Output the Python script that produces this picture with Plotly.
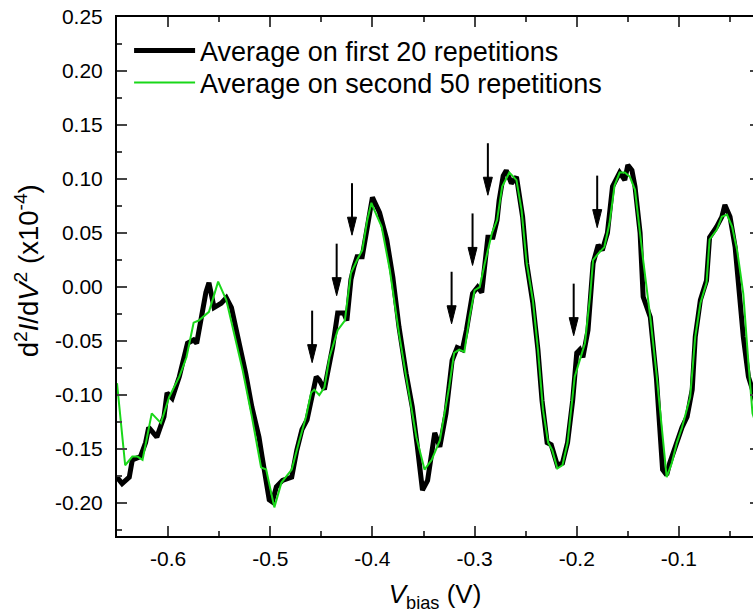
import plotly.graph_objects as go

# ---------------- data ----------------
black_v = [-0.650, -0.645, -0.638, -0.635, -0.627, -0.622, -0.619, -0.611, -0.604, -0.601,
           -0.596, -0.589, -0.581, -0.575, -0.572, -0.568, -0.563, -0.560, -0.555, -0.548,
           -0.543, -0.538, -0.530, -0.524, -0.518, -0.511, -0.508, -0.504, -0.501, -0.498,
           -0.494, -0.488, -0.479, -0.474, -0.469, -0.464, -0.459, -0.455, -0.452, -0.447,
           -0.444, -0.439, -0.434, -0.428, -0.425, -0.421, -0.418, -0.415, -0.410, -0.405,
           -0.400, -0.393, -0.386, -0.380, -0.374, -0.367, -0.361, -0.356, -0.351, -0.346,
           -0.342, -0.339, -0.334, -0.328, -0.322, -0.317, -0.312, -0.308, -0.302, -0.297,
           -0.293, -0.290, -0.287, -0.282, -0.278, -0.276, -0.272, -0.269, -0.264, -0.259,
           -0.253, -0.249, -0.243, -0.238, -0.234, -0.229, -0.225, -0.219, -0.214, -0.209,
           -0.204, -0.200, -0.197, -0.194, -0.189, -0.184, -0.179, -0.175, -0.170, -0.165,
           -0.158, -0.153, -0.150, -0.146, -0.143, -0.138, -0.135, -0.128, -0.122, -0.116,
           -0.112, -0.109, -0.102, -0.097, -0.092, -0.087, -0.084, -0.079, -0.073, -0.070,
           -0.063, -0.058, -0.055, -0.050, -0.045, -0.042, -0.037, -0.032, -0.028, -0.020]
black_d2 = [-0.176, -0.182, -0.176, -0.160, -0.157, -0.144, -0.130, -0.139, -0.120, -0.098,
            -0.103, -0.083, -0.052, -0.049, -0.052, -0.031, -0.005, 0.004, -0.019, -0.015,
            -0.010, -0.019, -0.052, -0.080, -0.111, -0.139, -0.157, -0.182, -0.197, -0.199,
            -0.185, -0.179, -0.176, -0.151, -0.132, -0.123, -0.100, -0.083, -0.086, -0.095,
            -0.080, -0.056, -0.024, -0.024, -0.031, 0.007, 0.019, 0.028, 0.028, 0.056,
            0.083, 0.069, 0.044, 0.009, -0.037, -0.080, -0.111, -0.148, -0.188, -0.179,
            -0.151, -0.135, -0.148, -0.117, -0.068, -0.056, -0.058, -0.040, -0.006, 0.000,
            -0.005, 0.025, 0.046, 0.046, 0.062, 0.080, 0.103, 0.108, 0.096, 0.102,
            0.065, 0.022, -0.015, -0.058, -0.105, -0.144, -0.146, -0.165, -0.163, -0.144,
            -0.105, -0.061, -0.058, -0.065, -0.040, 0.022, 0.039, 0.034, 0.050, 0.093,
            0.106, 0.099, 0.113, 0.108, 0.093, 0.050, -0.009, -0.028, -0.085, -0.169,
            -0.174, -0.163, -0.144, -0.130, -0.120, -0.095, -0.046, -0.012, 0.006, 0.046,
            0.056, 0.065, 0.076, 0.065, 0.037, 0.004, -0.046, -0.083, -0.095, -0.125]

green_v = [-0.650, -0.642, -0.635, -0.630, -0.625, -0.616, -0.607, -0.599, -0.589, -0.582,
           -0.575, -0.570, -0.560, -0.551, -0.543, -0.537, -0.527, -0.518, -0.509, -0.504,
           -0.496, -0.489, -0.479, -0.472, -0.465, -0.460, -0.457, -0.452, -0.447, -0.442,
           -0.434, -0.427, -0.421, -0.415, -0.410, -0.405, -0.401, -0.398, -0.391, -0.383,
           -0.374, -0.367, -0.357, -0.349, -0.342, -0.334, -0.325, -0.320, -0.315, -0.310,
           -0.305, -0.300, -0.295, -0.290, -0.283, -0.278, -0.273, -0.266, -0.259, -0.254,
           -0.249, -0.243, -0.238, -0.233, -0.228, -0.224, -0.219, -0.214, -0.209, -0.202,
           -0.197, -0.192, -0.187, -0.184, -0.179, -0.173, -0.168, -0.163, -0.158, -0.153,
           -0.148, -0.143, -0.135, -0.128, -0.122, -0.117, -0.112, -0.107, -0.102, -0.097,
           -0.089, -0.084, -0.079, -0.073, -0.070, -0.063, -0.058, -0.053, -0.048, -0.043,
           -0.037, -0.032, -0.028, -0.020]
green_d2 = [-0.089, -0.165, -0.157, -0.157, -0.160, -0.117, -0.126, -0.102, -0.083, -0.065,
            -0.033, -0.031, -0.023, 0.005, -0.012, -0.037, -0.077, -0.120, -0.167, -0.169,
            -0.204, -0.181, -0.169, -0.144, -0.120, -0.098, -0.095, -0.100, -0.093, -0.065,
            -0.040, -0.031, 0.013, 0.025, 0.034, 0.062, 0.078, 0.071, 0.056, 0.016,
            -0.043, -0.083, -0.139, -0.169, -0.160, -0.142, -0.093, -0.061, -0.058, -0.060,
            -0.028, -0.003, 0.000, 0.022, 0.050, 0.062, 0.093, 0.106, 0.099, 0.071,
            0.022, -0.012, -0.058, -0.114, -0.144, -0.151, -0.168, -0.165, -0.144, -0.083,
            -0.068, -0.052, -0.009, 0.025, 0.031, 0.037, 0.059, 0.094, 0.106, 0.106,
            0.102, 0.090, 0.025, -0.028, -0.080, -0.130, -0.176, -0.163, -0.144, -0.130,
            -0.102, -0.046, -0.015, 0.004, 0.044, 0.053, 0.065, 0.067, 0.056, 0.034,
            -0.006, -0.070, -0.117, -0.140]

# arrow tips (V, d2I/dV2)
arrow_v = [-0.459, -0.435, -0.420, -0.3225, -0.302, -0.287, -0.203, -0.180]
arrow_d2 = [-0.070, -0.008, 0.048, -0.034, 0.020, 0.085, -0.045, 0.055]

series_names = ["Average on first 20 repetitions", "Average on second 50 repetitions"]
x_ticks = [-0.6, -0.5, -0.4, -0.3, -0.2, -0.1]
y_ticks = [0.25, 0.20, 0.15, 0.10, 0.05, 0.00, -0.05, -0.10, -0.15, -0.20]
x_title = "<i>V</i><sub>bias</sub> (V)"
y_title = "d<sup>2</sup><i>I</i>/d<i>V</i><sup>2</sup> (x10<sup>-4</sup>)"

GREEN = "rgb(25,215,25)"
FONT = "Liberation Sans, Arial, sans-serif"

fig = go.Figure()
fig.add_trace(go.Scatter(x=black_v, y=black_d2, mode="lines", name=series_names[0],
                         line=dict(color="black", width=5), legend="legend"))
fig.add_trace(go.Scatter(x=green_v, y=green_d2, mode="lines", name=series_names[1],
                         line=dict(color=GREEN, width=2), legend="legend2"))
fig.add_trace(go.Scatter(x=[None], y=[None], yaxis="y2", showlegend=False, hoverinfo="skip"))

# arrows: head + shaft, sized in pixels and anchored at the tip
for v, d in zip(arrow_v, arrow_d2):
    fig.add_shape(type="path", xref="x", yref="y", xsizemode="pixel", ysizemode="pixel",
                  xanchor=v, yanchor=d, path="M-4.5,18 L4.5,18 L0,0 Z",
                  fillcolor="black", line=dict(color="black", width=1), layer="above")
    fig.add_shape(type="path", xref="x", yref="y", xsizemode="pixel", ysizemode="pixel",
                  xanchor=v, yanchor=d, path="M0,16 L0,52",
                  line=dict(color="black", width=2), layer="above")

# y-axis title as rotated text
fig.add_annotation(text=y_title, xref="paper", yref="paper", x=-0.1415, y=0.51,
                   xanchor="center", yanchor="middle", textangle=-90, showarrow=False,
                   font=dict(size=27.5, family=FONT, color="black"))

yr = [-0.2305, 0.25]
legend_common = dict(xanchor="left", yanchor="middle", bgcolor="rgba(0,0,0,0)",
                     font=dict(size=27, family=FONT), itemwidth=61)
fig.update_layout(
    width=753, height=616,
    margin=dict(l=117, r=0, t=17, b=80, autoexpand=False),
    paper_bgcolor="white", plot_bgcolor="white",
    font=dict(family=FONT, color="black", size=21),
    showlegend=True,
    legend=dict(x=0.019, y=0.9345, **legend_common),
    legend2=dict(x=0.019, y=0.8728, **legend_common),
    xaxis=dict(range=[-0.65, -0.0275], tickvals=x_ticks, ticktext=[f"{t:.1f}" for t in x_ticks],
               ticks="inside", ticklen=10, tickwidth=2, showline=True, linewidth=2, linecolor="black",
               mirror="ticks", showgrid=False, zeroline=False, automargin=False,
               minor=dict(ticks="inside", ticklen=5, tickwidth=2, dtick=0.05, tick0=0, showgrid=False),
               tickfont=dict(size=21), ticklabelstandoff=3,
               title=dict(text=x_title, font=dict(size=26), standoff=16)),
    yaxis=dict(range=yr, tickvals=y_ticks, ticktext=[f"{t:.2f}" for t in y_ticks],
               ticks="inside", ticklen=10, tickwidth=2, showline=True, linewidth=2, linecolor="black",
               mirror=False, showgrid=False, zeroline=False, automargin=False,
               minor=dict(ticks="inside", ticklen=5, tickwidth=2, dtick=0.025, tick0=0, showgrid=False),
               tickfont=dict(size=21), ticklabelstandoff=8),
    yaxis2=dict(range=yr, overlaying="y", side="right", anchor="x", tickvals=y_ticks,
                ticks="inside", ticklen=3, tickwidth=2, showticklabels=False, showline=False,
                showgrid=False, zeroline=False, automargin=False),
)

fig.write_html("out.html", config={"displayModeBar": False},
               post_script="document.body.style.margin='0px';")
